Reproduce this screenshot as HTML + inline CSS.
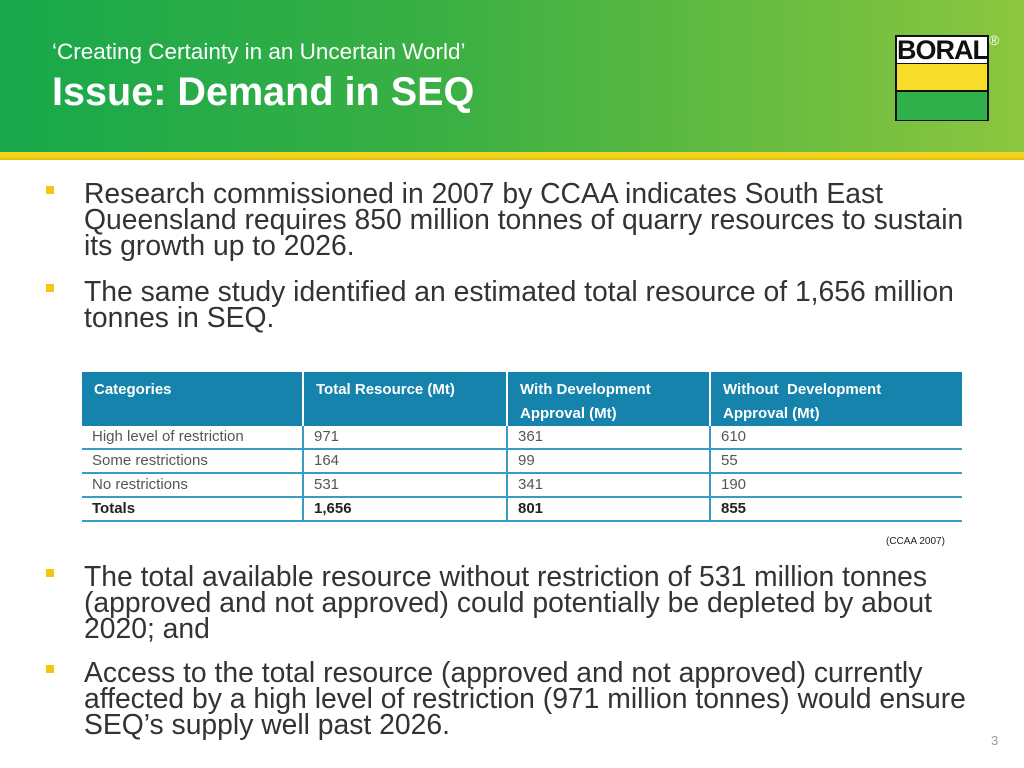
<!DOCTYPE html>
<html><head><meta charset="utf-8"><style>
body{margin:0;width:1024px;height:768px;overflow:hidden;background:#fff;font-family:"Liberation Sans",Arial,sans-serif;position:relative}
#hdr{position:absolute;left:0;top:0;width:1024px;height:152px;background:linear-gradient(90deg,#17a84b 0%,#3cb043 45%,#8cc63f 100%)}
#bar{position:absolute;left:0;top:152px;width:1024px;height:6px;background:#f3d21b;border-bottom:2px solid #e0c010}
.sub{position:absolute;left:52px;top:39px;color:#fff;font-size:22.5px}
.ttl{position:absolute;left:52px;top:70px;color:#fff;font-size:39.6px;font-weight:bold}
#logo{position:absolute;left:895px;top:35px;width:90px;height:82px;border:2px solid #111;background:#111}
#logo .w{height:26px;background:#fff;color:#111;font-weight:bold;font-size:27px;line-height:27px;text-align:center;letter-spacing:-1px}
#logo .y{height:26px;background:#f8de2b;border-top:1px solid #111}
#logo .g{height:28px;background:#2fb04a;border-top:2px solid #111}
.reg{position:absolute;left:989px;top:32px;color:#fff;font-size:14px}
ul{position:absolute;left:46px;margin:0;padding:0;list-style:none;font-size:28.3px;color:#333;line-height:26px;width:960px;white-space:nowrap}
li{position:relative;padding-left:38px;margin-bottom:20px}
li:before{content:"";position:absolute;left:0;top:6px;width:8px;height:8px;background:#f2c80f}
table{position:absolute;left:82px;top:372px;width:880px;border-collapse:collapse;font-size:15px;color:#555}
th{background:#1583ac;color:#fff;text-align:left;font-weight:bold;vertical-align:top;padding:6px 10px 0 12px;height:46px;line-height:24px;border-left:2px solid #fff;white-space:nowrap}
th:first-child{border-left:none}
td{height:22px;padding:0 10px;border-bottom:2px solid #3a9cc4;border-left:2px solid #3a9cc4;line-height:22px}
td:first-child{border-left:none}
tr.tot td{font-weight:bold;color:#222}
.src{position:absolute;left:886px;top:536px;font-size:10px;color:#222}
.pg{position:absolute;left:991px;top:733px;font-size:13px;color:#999}
</style></head><body>
<div id="hdr"></div>
<div id="bar"></div>
<div class="sub">‘Creating Certainty in an Uncertain World’</div>
<div class="ttl">Issue: Demand in SEQ</div>
<div id="logo"><div class="w">BORAL</div><div class="y"></div><div class="g"></div></div>
<div class="reg">®</div>
<ul style="top:180px">
<li>Research commissioned in 2007 by CCAA indicates South East<br>Queensland requires 850 million tonnes of quarry resources to sustain<br>its growth up to 2026.</li>
<li>The same study identified an estimated total resource of 1,656 million<br>tonnes in SEQ.</li>
</ul>
<table>
<tr><th style="width:198px">Categories</th><th style="width:180px">Total Resource (Mt)</th><th style="width:179px">With Development<br>Approval (Mt)</th><th>Without&nbsp; Development<br>Approval (Mt)</th></tr>
<tr><td>High level of restriction</td><td>971</td><td>361</td><td>610</td></tr>
<tr><td>Some restrictions</td><td>164</td><td>99</td><td>55</td></tr>
<tr><td>No restrictions</td><td>531</td><td>341</td><td>190</td></tr>
<tr class="tot"><td>Totals</td><td>1,656</td><td>801</td><td>855</td></tr>
</table>
<div class="src">(CCAA 2007)</div>
<ul style="top:563px">
<li style="margin-bottom:18px">The total available resource without restriction of 531 million tonnes<br>(approved and not approved) could potentially be depleted by about<br>2020; and</li>
<li>Access to the total resource (approved and not approved) currently<br>affected by a high level of restriction (971 million tonnes) would ensure<br>SEQ’s supply well past 2026.</li>
</ul>
<div class="pg">3</div>
</body></html>
